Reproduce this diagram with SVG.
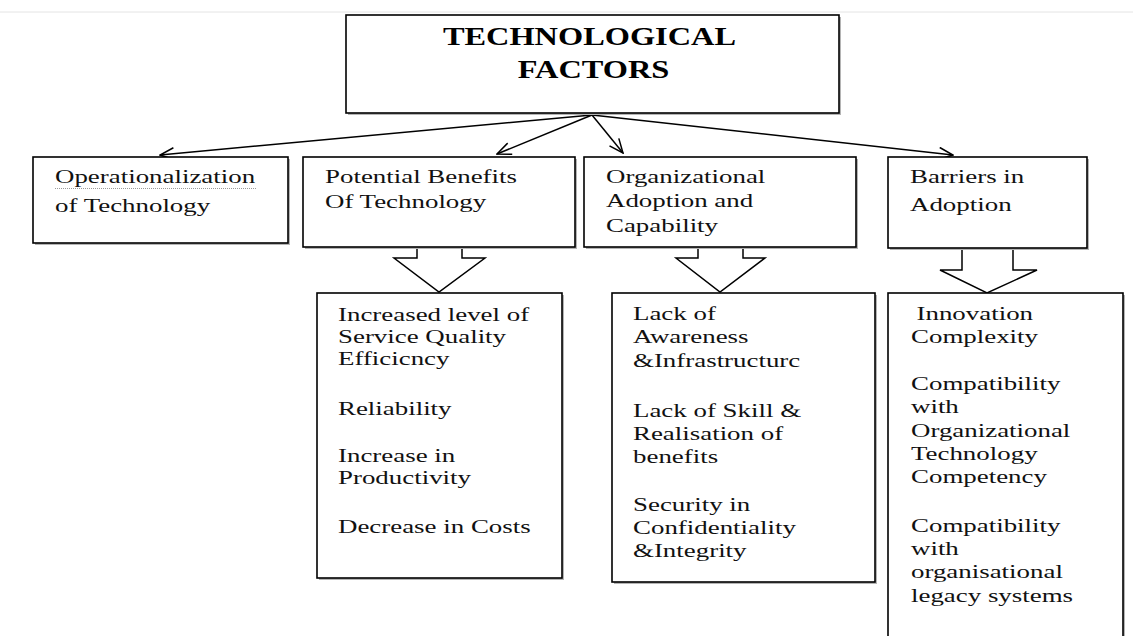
<svg xmlns="http://www.w3.org/2000/svg" width="1133" height="636" viewBox="0 0 1133 636">
  <style>
    .box { fill: #ffffff; stroke: #000000; stroke-width: 1.6; }
    .shadow { fill: #b4b4b4; stroke: none; }
    .block { fill: #ffffff; stroke: #000000; stroke-width: 1.5; stroke-linejoin: miter; }
    .link { fill: none; stroke: #000000; stroke-width: 1.5; }
    .label { font-family: "Liberation Serif", "Times New Roman", serif; font-size: 19.5px; fill: #111111; }
    .title { font-family: "Liberation Serif", "Times New Roman", serif; font-size: 25.5px; font-weight: bold; fill: #000000; text-anchor: middle; }
  </style>
  <defs>
    <marker id="open-arrow" viewBox="0 0 16 14" refX="15" refY="7" markerWidth="16" markerHeight="14" markerUnits="userSpaceOnUse" orient="auto">
      <path d="M1,1 L15,7 L1,13" fill="none" stroke="#000000" stroke-width="1.5"/>
    </marker>
  </defs>

  <rect width="1133" height="636" fill="#ffffff"/>
  <line x1="0" y1="12" x2="1133" y2="12" stroke="#e4e4e4" stroke-width="1"/>

  <!-- connectors from the title box to the four categories -->
  <g id="connectors">
    <line class="link" x1="592" y1="115" x2="160" y2="155" marker-end="url(#open-arrow)"/>
    <line class="link" x1="592" y1="115" x2="497" y2="154" marker-end="url(#open-arrow)"/>
    <line class="link" x1="592" y1="115" x2="623" y2="153" marker-end="url(#open-arrow)"/>
    <line class="link" x1="592" y1="115" x2="953" y2="155" marker-end="url(#open-arrow)"/>
    <polygon class="block" points="417,247 417,258 394,258 439,292 485,258 462,258 462,247"/>
    <polygon class="block" points="698,247 698,258 676,258 720,292 765,258 743,258 743,247"/>
    <polygon class="block" points="962,248 962,270 940,270 987,293 1037,270 1013,270 1013,248"/>
  </g>

  <g id="node-title">
    <rect class="shadow" x="348" y="17" width="493" height="98"/>
    <rect class="box" x="346" y="15" width="493" height="98"/>
    <text class="title" transform="translate(593.5 0) scale(1.27 1)">
      <tspan x="0" y="45">TECHNOLOGICAL</tspan>
      <tspan x="0" y="78">FACTORS</tspan>
    </text>
  </g>

  <g id="node-operationalization">
    <rect class="shadow" x="35" y="159" width="255" height="86"/>
    <rect class="box" x="33" y="157" width="255" height="86"/>
    <text class="label" transform="translate(55 0) scale(1.38 1)">
      <tspan x="0" y="183">Operationalization</tspan>
      <tspan x="0" y="212">of Technology</tspan>
    </text>
    <line x1="55" y1="188.5" x2="257" y2="188.5" stroke="#9a9a9a" stroke-width="1" stroke-dasharray="1 1"/>
  </g>

  <g id="node-benefits">
    <rect class="shadow" x="305" y="159" width="272" height="90"/>
    <rect class="box" x="303" y="157" width="272" height="90"/>
    <text class="label" transform="translate(325 0) scale(1.38 1)">
      <tspan x="0" y="183">Potential Benefits</tspan>
      <tspan x="0" y="208">Of Technology</tspan>
    </text>
  </g>

  <g id="node-adoption">
    <rect class="shadow" x="586" y="159" width="272" height="90"/>
    <rect class="box" x="584" y="157" width="272" height="90"/>
    <text class="label" transform="translate(606 0) scale(1.38 1)">
      <tspan x="0" y="183">Organizational</tspan>
      <tspan x="0" y="207">Adoption and</tspan>
      <tspan x="0" y="232">Capability</tspan>
    </text>
  </g>

  <g id="node-barriers">
    <rect class="shadow" x="890" y="159" width="199" height="91"/>
    <rect class="box" x="888" y="157" width="199" height="91"/>
    <text class="label" transform="translate(910 0) scale(1.38 1)">
      <tspan x="0" y="183">Barriers in</tspan>
      <tspan x="0" y="211">Adoption</tspan>
    </text>
  </g>

  <g id="node-benefits-list">
    <rect class="shadow" x="319" y="295" width="245" height="285"/>
    <rect class="box" x="317" y="293" width="245" height="285"/>
    <text class="label" transform="translate(338 0) scale(1.38 1)">
      <tspan x="0" y="321">Increased level of</tspan>
      <tspan x="0" y="343">Service Quality</tspan>
      <tspan x="0" y="365">Efficicncy</tspan>
      <tspan x="0" y="415">Reliability</tspan>
      <tspan x="0" y="462">Increase in</tspan>
      <tspan x="0" y="484">Productivity</tspan>
      <tspan x="0" y="533">Decrease in Costs</tspan>
    </text>
  </g>

  <g id="node-adoption-list">
    <rect class="shadow" x="614" y="295" width="263" height="289"/>
    <rect class="box" x="612" y="293" width="263" height="289"/>
    <text class="label" transform="translate(633 0) scale(1.38 1)">
      <tspan x="0" y="320">Lack of</tspan>
      <tspan x="0" y="343">Awareness</tspan>
      <tspan x="0" y="367">&amp;Infrastructurc</tspan>
      <tspan x="0" y="417">Lack of Skill &amp;</tspan>
      <tspan x="0" y="440">Realisation of</tspan>
      <tspan x="0" y="463">benefits</tspan>
      <tspan x="0" y="511">Security in</tspan>
      <tspan x="0" y="534">Confidentiality</tspan>
      <tspan x="0" y="557">&amp;Integrity</tspan>
    </text>
  </g>

  <g id="node-barriers-list">
    <rect class="shadow" x="890" y="295" width="235" height="380"/>
    <rect class="box" x="888" y="293" width="235" height="380"/>
    <text class="label" transform="translate(911 0) scale(1.38 1)">
      <tspan x="4" y="320">Innovation</tspan>
      <tspan x="0" y="343">Complexity</tspan>
      <tspan x="0" y="390">Compatibility</tspan>
      <tspan x="0" y="413">with</tspan>
      <tspan x="0" y="437">Organizational</tspan>
      <tspan x="0" y="460">Technology</tspan>
      <tspan x="0" y="483">Competency</tspan>
      <tspan x="0" y="532">Compatibility</tspan>
      <tspan x="0" y="555">with</tspan>
      <tspan x="0" y="578">organisational</tspan>
      <tspan x="0" y="602">legacy systems</tspan>
    </text>
  </g>
</svg>
